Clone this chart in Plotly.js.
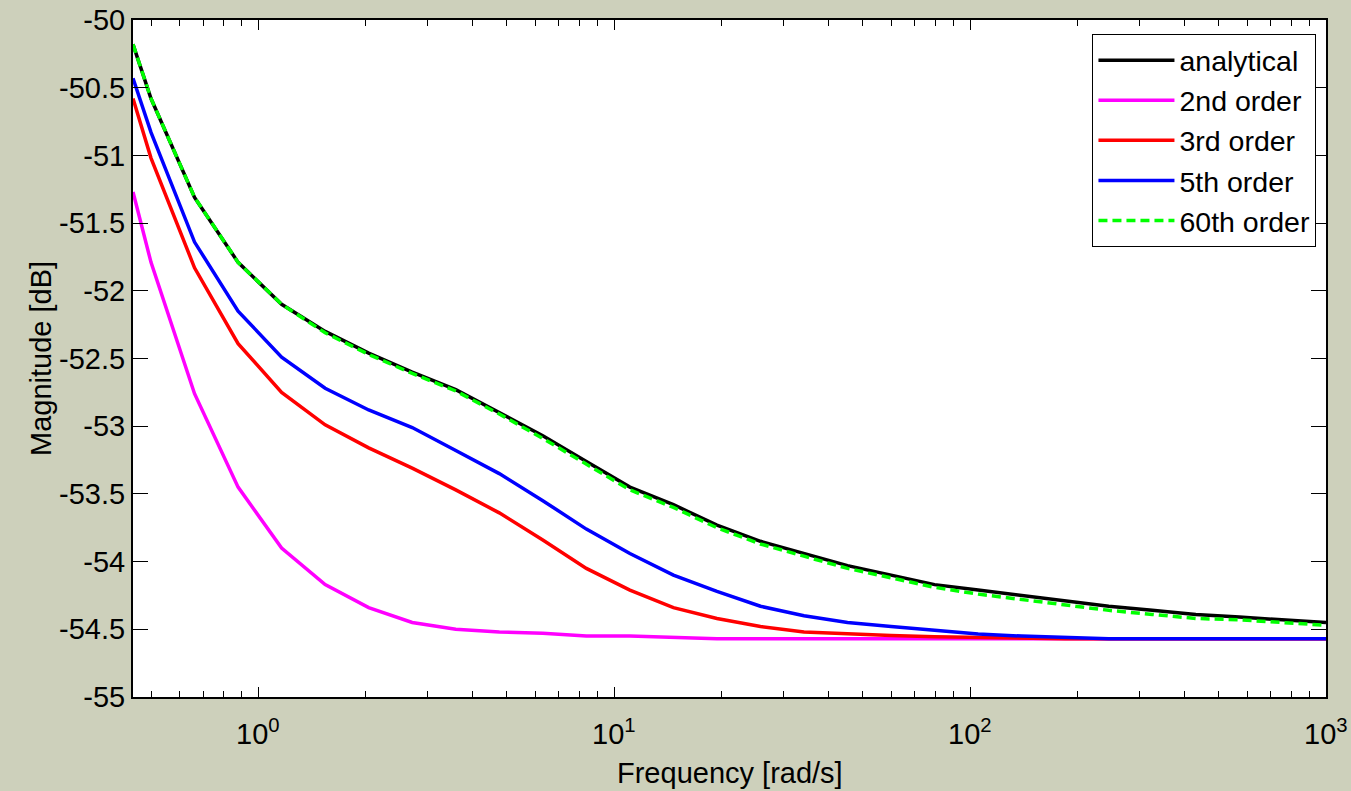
<!DOCTYPE html>
<html>
<head>
<meta charset="utf-8">
<script src="https://cdn.plot.ly/plotly-3.0.1.min.js"></script>
<style>
html,body{margin:0;padding:0;background:#cdd0bb;}
#chart{width:1351px;height:791px;}
</style>
</head>
<body>
<div id="chart"></div>
<script>
// Frequencies [rad/s]
var freq = [0.445, 0.5, 0.6626, 0.8782, 1.1638, 1.5424, 2.044, 2.7089, 3.59, 4.7577, 6.3052, 8.3561, 11.074, 14.676, 19.449, 25.775, 34.159, 45.27, 59.995, 79.509, 105.37, 139.64, 185.06, 245.26, 325.03, 430.75, 570.86, 756.54, 1000];

// Magnitudes [dB]
var analytical = [-50.18, -50.58, -51.31, -51.79, -52.10, -52.30, -52.46, -52.60, -52.73, -52.90, -53.07, -53.26, -53.45, -53.58, -53.73, -53.85, -53.94, -54.03, -54.10, -54.17, -54.21, -54.25, -54.29, -54.33, -54.36, -54.39, -54.41, -54.43, -54.45];
var order2 = [-51.27, -51.79, -52.76, -53.45, -53.90, -54.17, -54.34, -54.45, -54.50, -54.52, -54.53, -54.55, -54.55, -54.56, -54.57, -54.57, -54.57, -54.57, -54.57, -54.57, -54.57, -54.57, -54.57, -54.57, -54.57, -54.57, -54.57, -54.57, -54.57];
var order3 = [-50.58, -51.02, -51.83, -52.39, -52.75, -52.99, -53.16, -53.31, -53.47, -53.64, -53.84, -54.05, -54.21, -54.34, -54.42, -54.48, -54.52, -54.535, -54.545, -54.555, -54.56, -54.57, -54.57, -54.57, -54.57, -54.57, -54.57, -54.57, -54.57];
var order5 = [-50.43, -50.83, -51.64, -52.15, -52.49, -52.72, -52.88, -53.01, -53.18, -53.35, -53.55, -53.76, -53.94, -54.10, -54.22, -54.33, -54.40, -54.45, -54.48, -54.51, -54.535, -54.55, -54.56, -54.57, -54.57, -54.57, -54.57, -54.57, -54.57];
var order60 = [-50.18, -50.58, -51.31, -51.79, -52.10, -52.31, -52.47, -52.61, -52.74, -52.91, -53.09, -53.28, -53.47, -53.60, -53.75, -53.87, -53.96, -54.05, -54.12, -54.19, -54.24, -54.28, -54.32, -54.36, -54.39, -54.42, -54.43, -54.45, -54.47];

var seriesNames = ["analytical", "2nd order", "3rd order", "5th order", "60th order"];

// Tick labels and axis titles
var yTickVals = [-55, -54.5, -54, -53.5, -53, -52.5, -52, -51.5, -51, -50.5, -50];
var yTickText = ["-55", "-54.5", "-54", "-53.5", "-53", "-52.5", "-52", "-51.5", "-51", "-50.5", "-50"];
var xTickVals = [1, 10, 100, 1000];
var xTickText = ["10<sup>0</sup>", "10<sup>1</sup>", "10<sup>2</sup>", "10<sup>3</sup>"];
var xMinorVals = [0.5, 0.6, 0.7, 0.8, 0.9, 2, 3, 4, 5, 6, 7, 8, 9, 20, 30, 40, 50, 60, 70, 80, 90, 200, 300, 400, 500, 600, 700, 800, 900];
var xTitle = "Frequency [rad/s]";
var yTitle = "Magnitude [dB]";

var FONT = "Liberation Sans, Arial, sans-serif";
var xRange = [Math.log10(0.445), 3];

var traces = [
  {x: freq, y: analytical, name: seriesNames[0], mode: "lines", line: {color: "#000000", width: 3.5}},
  {x: freq, y: order2, name: seriesNames[1], mode: "lines", line: {color: "#ff00ff", width: 3.5}},
  {x: freq, y: order3, name: seriesNames[2], mode: "lines", line: {color: "#ff0000", width: 3.5}},
  {x: freq, y: order5, name: seriesNames[3], mode: "lines", line: {color: "#0000ff", width: 3.5}},
  {x: freq, y: order60, name: seriesNames[4], mode: "lines", line: {color: "#00ff00", width: 3.5, dash: "9px,5px"}}
];

// x tick labels placed through the log axis (annotation x is in log10 units)
var annotations = xTickVals.map(function (v, i) {
  return {
    x: Math.log10(v), xref: "x", y: 0, yref: "paper",
    xanchor: "center", yanchor: "top", yshift: -15,
    text: xTickText[i], showarrow: false,
    font: {family: FONT, size: 29, color: "#000000"}
  };
});
annotations.push({
  x: 0.5, xref: "paper", y: 0, yref: "paper",
  xanchor: "center", yanchor: "top", yshift: -58,
  text: xTitle, showarrow: false,
  font: {family: FONT, size: 29, color: "#000000"}
});

var layout = {
  width: 1351, height: 791,
  paper_bgcolor: "#cdd0bb",
  plot_bgcolor: "#ffffff",
  margin: {l: 133, r: 25, t: 20, b: 94},
  font: {family: FONT, size: 29, color: "#000000"},
  showlegend: true,
  legend: {
    x: 0.992, y: 0.979, xanchor: "right", yanchor: "top",
    bgcolor: "#ffffff", bordercolor: "#000000", borderwidth: 1,
    font: {family: FONT, size: 28.5, color: "#000000"},
    itemwidth: 76, tracegroupgap: 0
  },
  annotations: annotations,
  xaxis: {
    type: "log",
    range: xRange,
    tickmode: "array", tickvals: xTickVals,
    showticklabels: false,
    ticks: "inside", ticklen: 10, tickwidth: 1, tickcolor: "#000000",
    minor: {tickmode: "array", tickvals: xMinorVals, ticks: "inside", ticklen: 6, tickwidth: 1, tickcolor: "#000000", showgrid: false},
    showgrid: false, zeroline: false,
    showline: true, linecolor: "#000000", linewidth: 2, mirror: "ticks",
    automargin: false
  },
  yaxis: {
    range: [-55, -50],
    tickmode: "array", tickvals: yTickVals, ticktext: yTickText,
    ticks: "inside", ticklen: 15, tickwidth: 1, tickcolor: "#000000",
    showgrid: false, zeroline: false,
    showline: true, linecolor: "#000000", linewidth: 2, mirror: "ticks",
    tickfont: {family: FONT, size: 29, color: "#000000"},
    title: {text: yTitle, font: {family: FONT, size: 29, color: "#000000"}},
    automargin: false
  }
};

Plotly.newPlot("chart", traces, layout, {displayModeBar: false, staticPlot: true});
</script>
</body>
</html>
